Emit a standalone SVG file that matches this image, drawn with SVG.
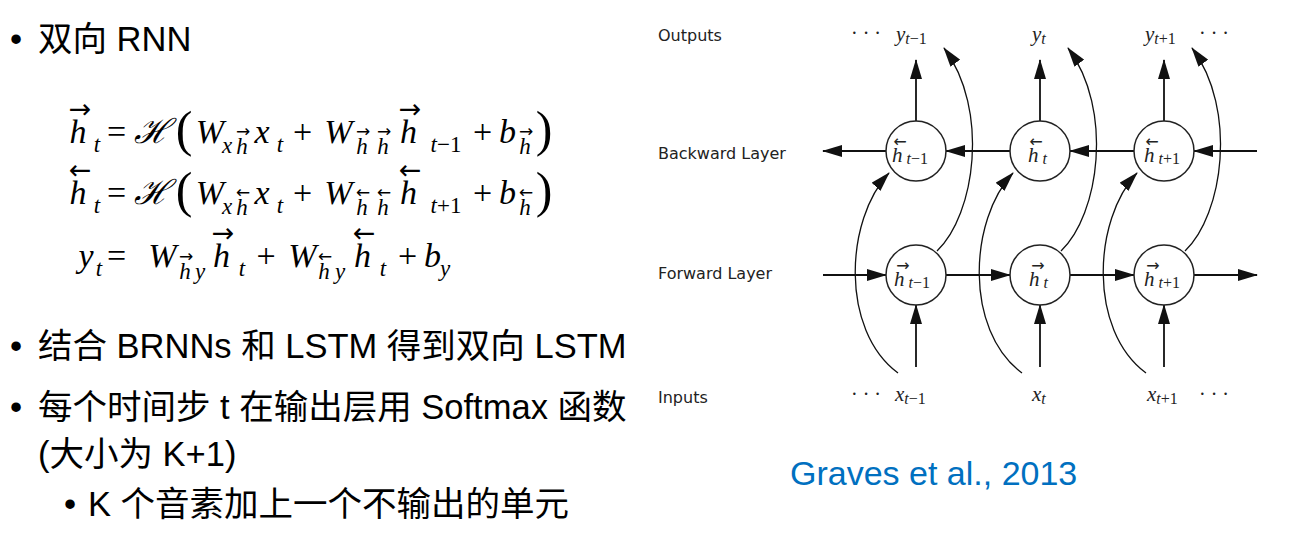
<svg xmlns="http://www.w3.org/2000/svg" width="1311" height="539" viewBox="0 0 1311 539">
<style>
.cn{font-family:"Liberation Sans","Noto Sans CJK SC",sans-serif;font-size:34.5px;fill:#000}
.mi{font-family:"Liberation Serif",serif;font-style:italic;font-size:34px;fill:#000;text-anchor:middle}
.mr{font-family:"Liberation Serif",serif;font-size:34px;fill:#000;text-anchor:middle}
.si{font-family:"Liberation Serif",serif;font-style:italic;font-size:23px;fill:#000;text-anchor:middle}
.sr{font-style:normal}
.par{font-family:"Liberation Serif",serif;font-size:50px;fill:#000;text-anchor:middle}
.cal{font-family:"DejaVu Serif",serif;font-style:italic;font-size:34px;fill:#000;text-anchor:middle}
.acc{font-family:"DejaVu Sans",sans-serif;font-size:27px;fill:#000;text-anchor:middle}
.sacc{font-family:"DejaVu Sans",sans-serif;font-size:17px;fill:#000;text-anchor:middle}
.lab{font-family:"DejaVu Sans",sans-serif;font-size:16px;fill:#222}
.dm{font-family:"Liberation Serif",serif;font-style:italic;font-size:21px;fill:#222}
.ds{font-family:"Liberation Serif",serif;font-style:italic;font-size:16px;fill:#222}
.dr{font-style:normal}
.dacc{font-family:"DejaVu Sans",sans-serif;font-size:16px;fill:#222;text-anchor:middle}
.dots{font-family:"Liberation Serif",serif;font-size:20px;fill:#222}
.node{fill:#fff;stroke:#222;stroke-width:1.5}
.ln{fill:none;stroke:#111;stroke-width:1.8}
.cv{fill:none;stroke:#111;stroke-width:1.3}
</style>
<defs>
<marker id="ah" markerUnits="userSpaceOnUse" markerWidth="20" markerHeight="12" refX="19" refY="6" orient="auto">
<path d="M0,0 L20,6 L0,12 z" fill="#111"/>
</marker>
</defs>

<g id="bullets">
<text class="cn" x="10" y="51">•</text>
<text class="cn" x="38" y="51">双向 RNN</text>
<text class="cn" x="10" y="358">•</text>
<text class="cn" x="38" y="358">结合 BRNNs 和 LSTM 得到双向 LSTM</text>
<text class="cn" x="10" y="419">•</text>
<text class="cn" x="38" y="419">每个时间步 t 在输出层用 Softmax 函数</text>
<text class="cn" x="38" y="466">(大小为 K+1)</text>
<text class="cn" x="64" y="516">•</text>
<text class="cn" x="88" y="516">K 个音素加上一个不输出的单元</text>
</g>

<g id="formula1">
<text class="mi" x="78" y="143">h</text><text class="acc" x="80" y="118">→</text>
<text class="si" x="97" y="152">t</text>
<text class="mr" x="116.5" y="143">=</text>
<text class="cal" x="152" y="143">ℋ</text>
<text class="par" x="184" y="146">(</text>
<text class="mi" x="210" y="143">W</text>
<text class="si" x="227" y="153">x</text>
<text class="si" x="242" y="154">h</text><text class="sacc" x="243" y="137">→</text>
<text class="mi" x="262" y="143">x</text>
<text class="si" x="280" y="152">t</text>
<text class="mr" x="302.5" y="143">+</text>
<text class="mi" x="338.5" y="143">W</text>
<text class="si" x="362" y="154">h</text><text class="sacc" x="363" y="137">→</text>
<text class="si" x="383" y="154">h</text><text class="sacc" x="384" y="137">→</text>
<text class="mi" x="408.5" y="143">h</text><text class="acc" x="410" y="118">→</text>
<text class="si" x="446" y="152">t<tspan class="sr">−1</tspan></text>
<text class="mr" x="482.5" y="143">+</text>
<text class="mi" x="507.5" y="143">b</text>
<text class="si" x="525" y="154">h</text><text class="sacc" x="526" y="137">→</text>
<text class="par" x="544" y="146">)</text>
</g>

<g id="formula2">
<text class="mi" x="78" y="204">h</text><text class="acc" x="80" y="179">←</text>
<text class="si" x="97" y="213">t</text>
<text class="mr" x="116.5" y="204">=</text>
<text class="cal" x="152" y="204">ℋ</text>
<text class="par" x="184" y="207">(</text>
<text class="mi" x="210" y="204">W</text>
<text class="si" x="227" y="214">x</text>
<text class="si" x="242" y="215">h</text><text class="sacc" x="243" y="198">←</text>
<text class="mi" x="262" y="204">x</text>
<text class="si" x="280" y="213">t</text>
<text class="mr" x="302.5" y="204">+</text>
<text class="mi" x="338.5" y="204">W</text>
<text class="si" x="362" y="215">h</text><text class="sacc" x="363" y="198">←</text>
<text class="si" x="383" y="215">h</text><text class="sacc" x="384" y="198">←</text>
<text class="mi" x="408.5" y="204">h</text><text class="acc" x="410" y="179">←</text>
<text class="si" x="446" y="213">t<tspan class="sr">+1</tspan></text>
<text class="mr" x="482.5" y="204">+</text>
<text class="mi" x="507.5" y="204">b</text>
<text class="si" x="525" y="215">h</text><text class="sacc" x="526" y="198">←</text>
<text class="par" x="544" y="207">)</text>
</g>

<g id="formula3">
<text class="mi" x="86" y="267">y</text>
<text class="si" x="99" y="276">t</text>
<text class="mr" x="116.5" y="267">=</text>
<text class="mi" x="162.5" y="267">W</text>
<text class="si" x="185" y="279">h</text><text class="sacc" x="186" y="262">→</text>
<text class="si" x="200" y="279">y</text>
<text class="mi" x="221.5" y="267">h</text><text class="acc" x="223" y="242">→</text>
<text class="si" x="242" y="276">t</text>
<text class="mr" x="266" y="267">+</text>
<text class="mi" x="302.5" y="267">W</text>
<text class="si" x="324" y="279">h</text><text class="sacc" x="325" y="262">←</text>
<text class="si" x="340" y="279">y</text>
<text class="mi" x="362.5" y="267">h</text><text class="acc" x="364" y="242">←</text>
<text class="si" x="383" y="276">t</text>
<text class="mr" x="407.5" y="267">+</text>
<text class="mi" x="432.5" y="267">b</text>
<text class="si" x="445" y="276">y</text>
</g>

<g id="layer-labels">
<text class="lab" x="658" y="41">Outputs</text>
<text class="lab" x="658" y="159">Backward Layer</text>
<text class="lab" x="658" y="279">Forward Layer</text>
<text class="lab" x="658" y="403">Inputs</text>
</g>

<g id="outputs">
<text class="dots" x="851" y="40">· · ·</text>
<text class="dm" x="896" y="41">y<tspan class="ds" dy="3">t<tspan class="dr">−1</tspan></tspan></text>
<text class="dm" x="1032" y="41">y<tspan class="ds" dy="3">t</tspan></text>
<text class="dm" x="1145" y="41">y<tspan class="ds" dy="3">t<tspan class="dr">+1</tspan></tspan></text>
<text class="dots" x="1199" y="40">· · ·</text>
</g>

<g id="inputs">
<text class="dots" x="851" y="401">· · ·</text>
<text class="dm" x="895" y="401">x<tspan class="ds" dy="3">t<tspan class="dr">−1</tspan></tspan></text>
<text class="dm" x="1032" y="401">x<tspan class="ds" dy="3">t</tspan></text>
<text class="dm" x="1147" y="401">x<tspan class="ds" dy="3">t<tspan class="dr">+1</tspan></tspan></text>
<text class="dots" x="1199" y="401">· · ·</text>
</g>

<g id="connectors">
<line class="ln" x1="916" y1="121" x2="916" y2="60" marker-end="url(#ah)"/>
<line class="ln" x1="1040" y1="121" x2="1040" y2="60" marker-end="url(#ah)"/>
<line class="ln" x1="1164" y1="121" x2="1164" y2="60" marker-end="url(#ah)"/>
<line class="ln" x1="1257" y1="151" x2="1194" y2="151" marker-end="url(#ah)"/>
<line class="ln" x1="1134" y1="151" x2="1070" y2="151" marker-end="url(#ah)"/>
<line class="ln" x1="1010" y1="151" x2="946" y2="151" marker-end="url(#ah)"/>
<line class="ln" x1="886" y1="151" x2="823" y2="151" marker-end="url(#ah)"/>
<line class="ln" x1="823" y1="275" x2="886" y2="275" marker-end="url(#ah)"/>
<line class="ln" x1="946" y1="275" x2="1010" y2="275" marker-end="url(#ah)"/>
<line class="ln" x1="1070" y1="275" x2="1134" y2="275" marker-end="url(#ah)"/>
<line class="ln" x1="1194" y1="275" x2="1257" y2="275" marker-end="url(#ah)"/>
<line class="ln" x1="916" y1="367" x2="916" y2="305" marker-end="url(#ah)"/>
<line class="ln" x1="1040" y1="367" x2="1040" y2="305" marker-end="url(#ah)"/>
<line class="ln" x1="1164" y1="367" x2="1164" y2="305" marker-end="url(#ah)"/>
<path class="cv" d="M898,373 C840,330 845,220 889,173" marker-end="url(#ah)"/>
<path class="cv" d="M1022,373 C964,330 969,220 1013,173" marker-end="url(#ah)"/>
<path class="cv" d="M1146,373 C1088,330 1093,220 1137,173" marker-end="url(#ah)"/>
<path class="cv" d="M937,251 C975,215 990,110 944,48" marker-end="url(#ah)"/>
<path class="cv" d="M1061,251 C1099,215 1114,110 1068,48" marker-end="url(#ah)"/>
<path class="cv" d="M1185,251 C1223,215 1238,110 1192,48" marker-end="url(#ah)"/>
</g>

<g id="node-back-tm1">
<circle class="node" cx="916" cy="151" r="30"/>
<text class="dacc" x="900" y="147">←</text>
<text class="dm" x="892" y="162">h<tspan class="ds" dx="4" dy="2">t<tspan class="dr">−1</tspan></tspan></text>
</g>
<g id="node-back-t">
<circle class="node" cx="1040" cy="151" r="30"/>
<text class="dacc" x="1036" y="147">←</text>
<text class="dm" x="1028" y="162">h<tspan class="ds" dx="4" dy="2">t</tspan></text>
</g>
<g id="node-back-tp1">
<circle class="node" cx="1164" cy="151" r="30"/>
<text class="dacc" x="1152" y="147">←</text>
<text class="dm" x="1144" y="162">h<tspan class="ds" dx="4" dy="2">t<tspan class="dr">+1</tspan></tspan></text>
</g>
<g id="node-fwd-tm1">
<circle class="node" cx="916" cy="275" r="30"/>
<text class="dacc" x="903" y="271">→</text>
<text class="dm" x="894" y="286">h<tspan class="ds" dx="4" dy="2">t<tspan class="dr">−1</tspan></tspan></text>
</g>
<g id="node-fwd-t">
<circle class="node" cx="1040" cy="275" r="30"/>
<text class="dacc" x="1038" y="271">→</text>
<text class="dm" x="1029" y="286">h<tspan class="ds" dx="4" dy="2">t</tspan></text>
</g>
<g id="node-fwd-tp1">
<circle class="node" cx="1164" cy="275" r="30"/>
<text class="dacc" x="1153" y="271">→</text>
<text class="dm" x="1144" y="286">h<tspan class="ds" dx="4" dy="2">t<tspan class="dr">+1</tspan></tspan></text>
</g>

<text id="citation" x="790" y="485" style="font-family:'Liberation Sans',sans-serif;font-size:34px;fill:#0070C0">Graves et al., 2013</text>
</svg>
